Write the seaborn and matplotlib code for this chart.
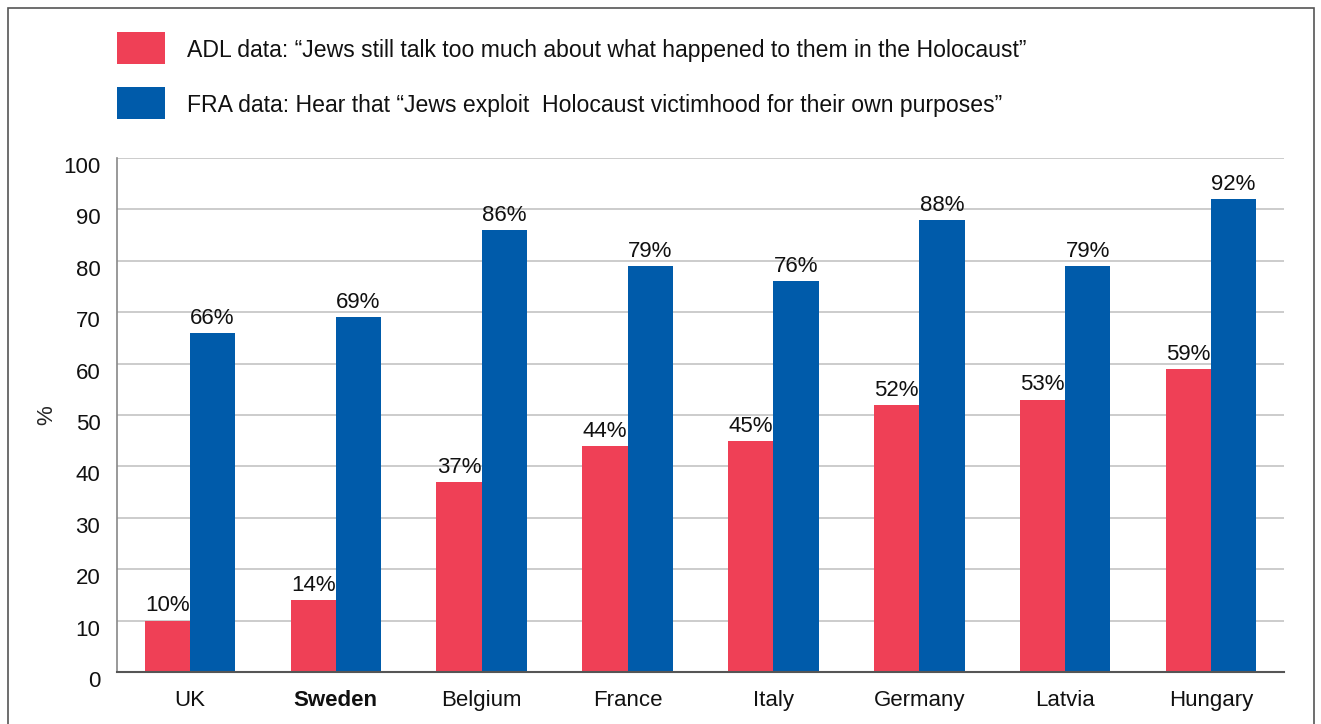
import numpy as np
import pandas as pd
import matplotlib
matplotlib.use("Agg")
import matplotlib.pyplot as plt
import matplotlib.transforms as mtransforms
from matplotlib.patches import Rectangle
import seaborn as sns

countries = ["UK", "Sweden", "Belgium", "France", "Italy", "Germany", "Latvia", "Hungary"]
adl_values = [10, 14, 37, 44, 45, 52, 53, 59]
fra_values = [66, 69, 86, 79, 76, 88, 79, 92]
series_labels = [
    "ADL data: \u201cJews still talk too much about what happened to them in the Holocaust\u201d",
    "FRA data: Hear that \u201cJews exploit  Holocaust victimhood for their own purposes\u201d",
]
y_ticks = list(range(0, 101, 10))

RED = "#EF4056"
BLUE = "#005BAA"
W, H = 1321, 724

df = pd.DataFrame({
    "country": countries * 2,
    "value": adl_values + fra_values,
    "source": [series_labels[0]] * len(countries) + [series_labels[1]] * len(countries),
})

sns.set_style("white")
plt.rcParams["font.family"] = ["Liberation Sans", "DejaVu Sans"]

fig = plt.figure(figsize=(W / 100, H / 100), dpi=100)
ax = fig.add_axes([117 / W, 1 - 672 / H, 1167 / W, 514 / H])

sns.barplot(data=df, x="country", y="value", hue="source", order=countries,
            hue_order=series_labels, palette=[RED, BLUE], width=0.62, gap=0,
            saturation=1, linewidth=0, legend=False, ax=ax)

for cont in ax.containers:
    ax.bar_label(cont, fmt="%d%%", fontsize=16, padding=3, color="#111111")

ax.set_xlim(-0.5, len(countries) - 0.5)
ax.set_ylim(0, 100)
ax.set_yticks(y_ticks)
ax.yaxis.grid(True, color="#cccccc", linewidth=1.4)
ax.set_axisbelow(True)

for s in ["top", "right"]:
    ax.spines[s].set_visible(False)
ax.spines["left"].set_color("#888888")
ax.spines["left"].set_linewidth(1.2)
ax.spines["bottom"].set_color("#555555")
ax.spines["bottom"].set_linewidth(1.5)

ax.set_xlabel("")
ax.set_ylabel("%", fontsize=16)
ax.yaxis.set_label_coords((57 - 117) / 1167, 0.5)
ax.tick_params(axis="x", length=0, labelsize=16, pad=13, colors="#111111")
ax.tick_params(axis="y", length=0, labelsize=16, pad=12, colors="#111111")
ax.set_xticks(np.arange(-0.5, len(countries), 1.0), minor=True)
ax.tick_params(axis="x", which="minor", direction="in", length=12, width=1, color="#555555")

for lbl in ax.get_xticklabels():
    if lbl.get_text() == "Sweden":
        lbl.set_fontweight("bold")

offset = mtransforms.ScaledTranslation(0, -7 / 100, fig.dpi_scale_trans)
for lbl in ax.get_yticklabels():
    lbl.set_transform(lbl.get_transform() + offset)

# legend drawn by hand: colour square + label
for color, label, yc in zip([RED, BLUE], series_labels, [48, 103]):
    fig.add_artist(Rectangle((117 / W, 1 - (yc + 16) / H), 48 / W, 32 / H,
                             transform=fig.transFigure, facecolor=color,
                             edgecolor="none"))
    fig.text(187 / W, 1 - yc / H, label, fontsize=16.6, va="center_baseline",
             ha="left", color="#111111")

fig.add_artist(Rectangle((8 / W, -0.1), 1306 / W, 1.1 - 8 / H,
                         transform=fig.transFigure, fill=False,
                         edgecolor="#555555", linewidth=1.2))

fig.savefig("out.png", dpi=100)
